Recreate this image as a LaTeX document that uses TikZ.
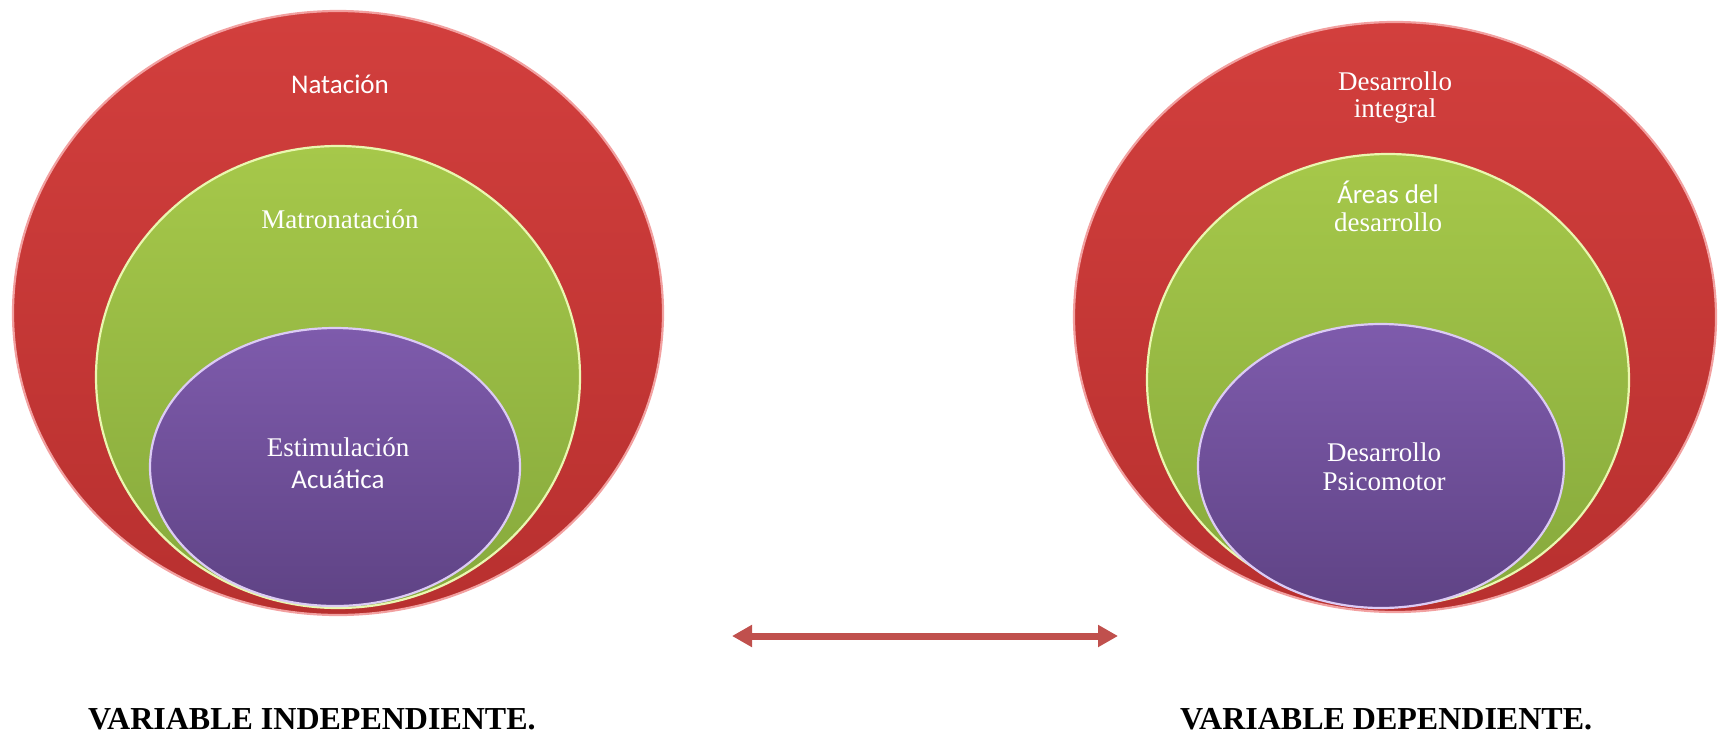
\documentclass[tikz,border=0pt]{standalone}
\usepackage{fontspec}
\setmainfont{Liberation Serif}
\newfontfamily\calib{Carlito}
\usetikzlibrary{shapes.geometric,arrows.meta}
\definecolor{redT}{HTML}{D23F3D}
\definecolor{redB}{HTML}{B8302F}
\definecolor{redRim}{HTML}{F2A0A0}
\definecolor{grnT}{HTML}{A6C84A}
\definecolor{grnB}{HTML}{86A93C}
\definecolor{grnRim}{HTML}{EAF7B0}
\definecolor{purT}{HTML}{7E5BAC}
\definecolor{purB}{HTML}{5F4385}
\definecolor{purRim}{HTML}{DCCBF5}
\definecolor{arrowred}{HTML}{C0504D}
\tikzset{
  disc/.style={ellipse, inner sep=0pt, line width=2.2pt},
  reddisc/.style={disc, top color=redT, bottom color=redB, draw=redRim},
  grndisc/.style={disc, top color=grnT, bottom color=grnB, draw=grnRim},
  purdisc/.style={disc, top color=purT, bottom color=purB, draw=purRim},
  sans/.style={text=white, font=\calib\fontsize{27}{30}\selectfont, align=center},
  serif/.style={text=white, font=\fontsize{27}{30}\selectfont, align=center},
  lbl/.style={font=\bfseries\fontsize{32}{36}\selectfont, anchor=base west, inner sep=0pt},
}
\begin{document}
\begin{tikzpicture}[x=1pt,y=-1pt]
\useasboundingbox (0,0) rectangle (1718,734);
% left set
\node[reddisc, minimum width=650pt, minimum height=604pt] (lred) at (338,313) {};
\node[grndisc, minimum width=484pt, minimum height=462pt] (lgrn) at (338,377) {};
\node[purdisc, minimum width=370pt, minimum height=278pt] (lpur) at (335,467) {};
\node[sans] (t1) at (340,84) {Natación};
\node[serif] (t2) at (340,219) {Matronatación};
\node[serif] (t3) at (338,447) {Estimulación};
\node[sans] (t4) at (338,479) {Acuática};
% right set
\node[reddisc, minimum width=642pt, minimum height=590pt] (rred) at (1395,317) {};
\node[grndisc, minimum width=482pt, minimum height=452pt] (rgrn) at (1388,380) {};
\node[purdisc, minimum width=366pt, minimum height=284pt] (rpur) at (1381,466) {};
\node[serif] (u1) at (1395,81) {Desarrollo};
\node[serif] (u2) at (1395,111) {integral};
\node[sans] (u3) at (1388,192) {Áreas del};
\node[serif] (u4) at (1388,222) {desarrollo};
\node[serif] (u5) at (1384,452) {Desarrollo};
\node[serif] (u6) at (1384,482) {Psicomotor};
% arrow
\coordinate (a1) at (732,636);
\coordinate (a2) at (1118,636);
\draw[arrowred, line width=7pt, {Triangle[length=20pt,width=21pt]}-{Triangle[length=20pt,width=21pt]}] (a1) -- (a2);
% labels
\node[lbl] (l1) at (88,729) {VARIABLE INDEPENDIENTE.};
\node[lbl] (l2) at (1180,729) {VARIABLE DEPENDIENTE.};
\end{tikzpicture}
\end{document}
